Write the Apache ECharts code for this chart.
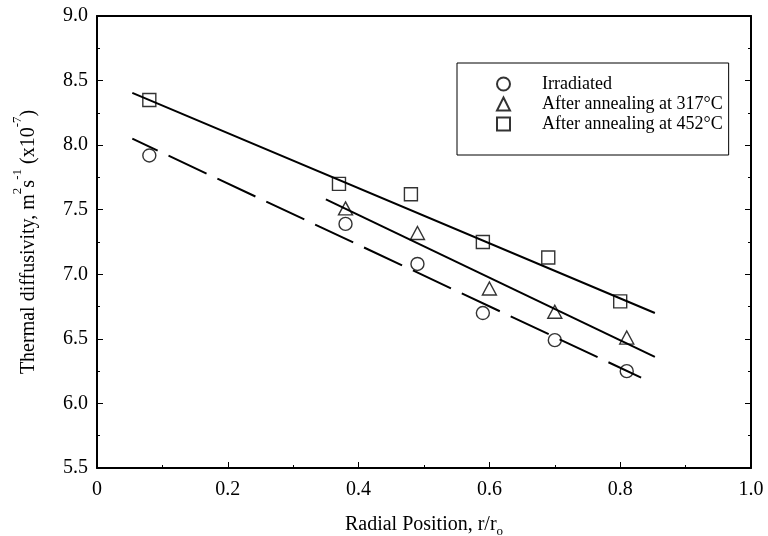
<!DOCTYPE html>
<html>
<head>
<meta charset="utf-8">
<script src="https://cdn.jsdelivr.net/npm/echarts@6/dist/echarts.min.js"></script>
<style>
  html, body { margin: 0; padding: 0; background: #fff; }
  #chart { width: 768px; height: 536px; }
</style>
</head>
<body>
<div id="chart"></div>
<script>
// Measured diffusivity at each radial position
const irradiated = [[0.08, 7.92], [0.38, 7.39], [0.49, 7.08], [0.59, 6.70], [0.70, 6.49], [0.81, 6.25]];
const annealed317 = [[0.38, 7.51], [0.49, 7.32], [0.60, 6.89], [0.70, 6.71], [0.81, 6.51]];
const annealed452 = [[0.08, 8.35], [0.37, 7.70], [0.48, 7.62], [0.59, 7.25], [0.69, 7.13], [0.80, 6.79]];

// Linear fit end points for each condition
const fitIrradiated = [[0.054, 8.05], [0.832, 6.20]];
const fit317 = [[0.35, 7.58], [0.853, 6.36]];
const fit452 = [[0.054, 8.405], [0.853, 6.70]];

const seriesNames = ['Irradiated', 'After annealing at 317°C', 'After annealing at 452°C'];

const FONT = '"Liberation Serif", "Times New Roman", serif';
const INK = '#000';

const chart = echarts.init(document.getElementById('chart'));

const markerStyle = { color: 'rgba(255,255,255,0)', borderColor: INK, borderWidth: 1.4 };

function fitLine(data, dashed) {
  return {
    type: 'line',
    data: data,
    symbol: 'none',
    silent: true,
    z: 1,
    lineStyle: dashed
      ? { color: INK, width: 2, type: [42, 12], dashOffset: 14 }
      : { color: INK, width: 2 }
  };
}

chart.setOption({
  animation: false,
  backgroundColor: '#fff',
  textStyle: { fontFamily: FONT, color: INK },
  grid: { left: 97, top: 16, right: 17, bottom: 68, outerBoundsMode: 'none', containLabel: false },
  legend: {
    data: seriesNames,
    orient: 'vertical',
    left: 457,
    top: 63,
    padding: [11, 6, 21, 39],
    itemWidth: 13,
    itemHeight: 13,
    itemGap: 0,
    borderColor: INK,
    borderWidth: 1,
    textStyle: { fontFamily: FONT, fontSize: 18, color: INK, lineHeight: 20, padding: [0, 0, 0, 27] }
  },
  xAxis: [{
    type: 'value',
    min: 0, max: 1, interval: 0.2,
    name: '{n|Radial Position, r/r}{b|o}',
    nameLocation: 'middle',
    nameGap: 44,
    nameTextStyle: {
      rich: {
        n: { fontFamily: FONT, fontSize: 20, color: INK, lineHeight: 26, verticalAlign: 'middle' },
        b: { fontFamily: FONT, fontSize: 13, color: INK, lineHeight: 26, verticalAlign: 'bottom' }
      }
    },
    axisLine: { show: true, onZero: false, lineStyle: { color: INK, width: 2 } },
    axisTick: { show: true, inside: true, length: 6, lineStyle: { color: INK } },
    minorTick: { show: true, splitNumber: 2, length: 3, lineStyle: { color: INK } },
    splitLine: { show: false },
    axisLabel: {
      fontFamily: FONT, fontSize: 20, color: INK, margin: 12,
      formatter: v => (v === 0 ? '0' : v.toFixed(1))
    }
  }, {
    type: 'value',
    position: 'top',
    min: 0, max: 1, interval: 0.2,
    axisLine: { show: true, onZero: false, lineStyle: { color: INK, width: 2 } },
    axisTick: { show: false },
    axisLabel: { show: false },
    splitLine: { show: false }
  }],
  yAxis: [{
    type: 'value',
    min: 5.5, max: 9, interval: 0.5,
    name: '{n|Thermal diffusivity, m}{s|2}{n|s}{s|-1}{n| (x10}{s|-7}{n|)}',
    nameLocation: 'middle',
    nameGap: 58,
    nameRotate: 90,
    nameTextStyle: {
      rich: {
        n: { fontFamily: FONT, fontSize: 20, color: INK, lineHeight: 28, verticalAlign: 'bottom' },
        s: { fontFamily: FONT, fontSize: 13, color: INK, lineHeight: 28, verticalAlign: 'top' }
      }
    },
    axisLine: { show: true, onZero: false, lineStyle: { color: INK, width: 2 } },
    axisTick: { show: true, inside: true, length: 6, lineStyle: { color: INK } },
    minorTick: { show: true, splitNumber: 2, length: 3, lineStyle: { color: INK } },
    splitLine: { show: false },
    axisLabel: {
      fontFamily: FONT, fontSize: 20, color: INK, margin: 9,
      formatter: v => v.toFixed(1)
    }
  }, {
    type: 'value',
    position: 'right',
    min: 5.5, max: 9, interval: 0.5,
    axisLine: { show: true, onZero: false, lineStyle: { color: INK, width: 2 } },
    axisTick: { show: true, inside: true, length: 6, lineStyle: { color: INK } },
    minorTick: { show: true, splitNumber: 2, length: 3, lineStyle: { color: INK } },
    axisLabel: { show: false },
    splitLine: { show: false }
  }],
  series: [
    fitLine(fit452, false),
    fitLine(fit317, false),
    fitLine(fitIrradiated, true),
    {
      name: seriesNames[0], type: 'scatter', data: irradiated,
      symbol: 'circle', symbolSize: 13, itemStyle: markerStyle, z: 3
    },
    {
      name: seriesNames[1], type: 'scatter', data: annealed317,
      symbol: 'triangle', symbolSize: [14, 13], itemStyle: markerStyle, z: 3
    },
    {
      name: seriesNames[2], type: 'scatter', data: annealed452,
      symbol: 'rect', symbolSize: 13, itemStyle: markerStyle, z: 3
    }
  ]
});
</script>
</body>
</html>
